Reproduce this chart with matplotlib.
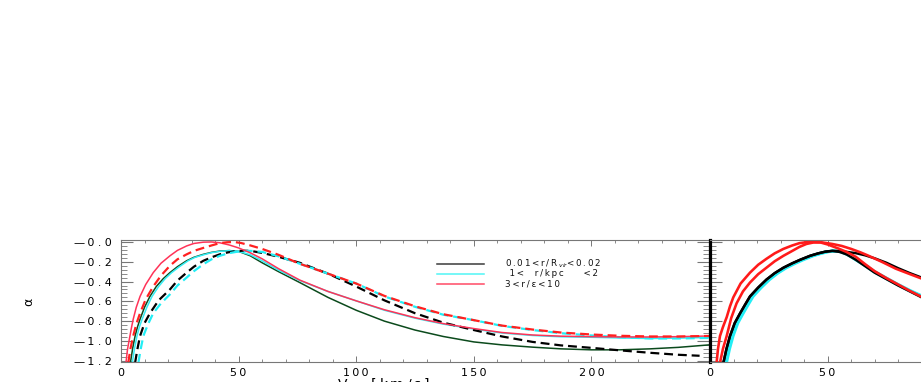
import matplotlib
matplotlib.use("Agg")
import matplotlib.pyplot as plt
from matplotlib.lines import Line2D
from matplotlib.ticker import MultipleLocator, FixedLocator, FixedFormatter

# ---------------- data ----------------
# Left panel: alpha vs Vmax
green_solid_x = [4.0, 5.0, 6.0, 7.0, 8.1, 10, 12.3, 15, 18, 20.8, 24, 27.9, 31, 35, 38.5, 42, 46, 50, 55, 60, 67, 76,
                 88, 100, 112, 125, 137, 150, 162, 175, 187, 200, 212, 225, 237, 250]
green_solid_y = [-1.22, -1.07, -0.95, -0.86, -0.78, -0.66, -0.55, -0.45, -0.37, -0.31, -0.25, -0.19, -0.155, -0.125,
                 -0.105, -0.092, -0.087, -0.095, -0.14, -0.21, -0.30, -0.41, -0.56, -0.69, -0.80, -0.89, -0.955,
                 -1.01, -1.04, -1.063, -1.08, -1.09, -1.09, -1.08, -1.065, -1.04]

cyan_solid_x = [4.8, 5.8, 6.8, 7.8, 9.0, 11, 13.2, 16, 18.8, 21.5, 24.8, 28.5, 31.5, 35, 38.5, 42, 46, 50, 55, 60, 67,
                76, 88, 100, 112, 125, 137, 150, 162, 175, 187, 200, 212, 225, 237, 250]
cyan_solid_y = [-1.22, -1.07, -0.95, -0.86, -0.78, -0.66, -0.55, -0.45, -0.37, -0.31, -0.25, -0.19, -0.155, -0.13,
                -0.108, -0.095, -0.088, -0.095, -0.13, -0.19, -0.285, -0.39, -0.50, -0.595, -0.69, -0.77, -0.83,
                -0.88, -0.92, -0.945, -0.958, -0.963, -0.97, -0.975, -0.972, -0.965]

red_solid_x = [2.1, 2.8, 3.8, 4.5, 5.2, 6.5, 8.1, 10.5, 13.7, 17, 20.8, 24, 27.9, 31, 35, 38.5, 42, 46, 50, 55, 60, 67,
               76, 88, 100, 112, 125, 137, 150, 162, 175, 187, 200, 212, 225, 237, 250]
red_solid_y = [-1.22, -1.08, -0.95, -0.86, -0.78, -0.66, -0.55, -0.43, -0.31, -0.215, -0.14, -0.085, -0.04, -0.015,
               -0.002, 0.0, -0.008, -0.03, -0.06, -0.11, -0.17, -0.27, -0.385, -0.50, -0.595, -0.685, -0.765, -0.825,
               -0.875, -0.915, -0.94, -0.952, -0.957, -0.96, -0.96, -0.957, -0.95]

red_dash_x = [3.1, 4.0, 5.2, 6.5, 8.1, 10.5, 13.7, 17, 20.8, 24, 27.9, 31, 35, 38.5, 42, 45, 48, 51, 55, 60, 67, 76, 88,
              100, 112, 125, 137, 150, 162, 175, 187, 200, 212, 225, 237, 250]
red_dash_y = [-1.22, -1.08, -0.95, -0.83, -0.72, -0.58, -0.45, -0.34, -0.24, -0.175, -0.125, -0.09, -0.06, -0.035,
              -0.012, -0.003, 0.0, -0.01, -0.035, -0.07, -0.13, -0.22, -0.32, -0.42, -0.545, -0.65, -0.73, -0.79,
              -0.845, -0.885, -0.915, -0.935, -0.948, -0.955, -0.955, -0.95]

black_dash_x = [6.0, 7.0, 8.1, 10, 12.3, 16, 20.8, 24, 27.9, 31, 35, 38.5, 42, 45.5, 49, 52, 55, 60, 67, 76, 88, 100,
                112, 125, 137, 150, 162, 175, 187, 200, 212, 225, 237, 246]
black_dash_y = [-1.22, -1.08, -0.95, -0.82, -0.72, -0.59, -0.48, -0.39, -0.31, -0.25, -0.19, -0.155, -0.125, -0.105,
                -0.092, -0.088, -0.09, -0.11, -0.15, -0.21, -0.32, -0.45, -0.59, -0.72, -0.815, -0.89, -0.955, -1.01,
                -1.045, -1.07, -1.095, -1.12, -1.14, -1.15]

cyan_dash_x = [7.4, 8.4, 9.5, 11.5, 13.7, 17, 20.8, 24, 27.9, 31, 35, 38.5, 42, 45.5, 49, 52, 55, 60, 67, 76, 88, 100,
               112, 125, 137, 150, 162, 175, 187, 200, 212, 225, 237, 250]
cyan_dash_y = [-1.22, -1.08, -0.95, -0.83, -0.72, -0.62, -0.53, -0.44, -0.36, -0.295, -0.225, -0.175, -0.14, -0.115,
               -0.10, -0.092, -0.09, -0.10, -0.145, -0.22, -0.32, -0.42, -0.55, -0.655, -0.735, -0.79, -0.848, -0.89,
               -0.922, -0.945, -0.962, -0.975, -0.975, -0.97]

# Right panel (only its left part is visible)
r_red_a_x = [2.8, 3.4, 4.25, 5.5, 7.1, 8.5, 9.9, 13, 17, 20.5, 24, 27.5, 31.2, 35, 38, 41, 44, 47, 52, 56, 60, 64, 67,
             73, 79, 85, 90, 95, 100]
r_red_a_y = [-1.22, -1.08, -0.95, -0.86, -0.76, -0.65, -0.56, -0.42, -0.31, -0.23, -0.17, -0.115, -0.07, -0.035,
             -0.012, -0.002, 0.0, -0.002, -0.02, -0.04, -0.07, -0.105, -0.135, -0.20, -0.27, -0.325, -0.37, -0.415,
             -0.46]
r_red_b_x = [4.25, 5.5, 7.1, 9, 11.3, 14, 17, 20.5, 24, 27.5, 31.2, 35, 38, 41, 44, 47, 50, 55, 58, 62, 66, 70, 75, 80,
             85, 90, 95, 100]
r_red_b_y = [-1.22, -1.08, -0.95, -0.77, -0.62, -0.50, -0.41, -0.325, -0.26, -0.195, -0.14, -0.09, -0.05, -0.02,
             -0.005, -0.005, -0.025, -0.07, -0.10, -0.15, -0.225, -0.295, -0.365, -0.43, -0.495, -0.555, -0.61, -0.66]
r_black_a_x = [5.7, 7, 8.5, 10.5, 12.8, 15, 17, 20.5, 24, 27.5, 31.2, 35, 38.3, 42.5, 46, 49, 52, 55, 58, 62, 66, 70,
               75, 80, 85, 90, 95, 100]
r_black_a_y = [-1.22, -1.08, -0.95, -0.82, -0.72, -0.63, -0.55, -0.46, -0.38, -0.315, -0.26, -0.215, -0.18, -0.14,
               -0.115, -0.098, -0.09, -0.092, -0.10, -0.113, -0.135, -0.165, -0.21, -0.265, -0.315, -0.36, -0.405,
               -0.45]
r_black_b_x = [5.7, 7, 8.5, 10.5, 12.8, 15, 17, 20.5, 24, 27.5, 31.2, 35, 38.3, 42.5, 46, 49, 52, 55, 58, 62, 66, 70,
               75, 80, 85, 90, 95, 100]
r_black_b_y = [-1.22, -1.08, -0.95, -0.82, -0.72, -0.63, -0.55, -0.46, -0.38, -0.315, -0.26, -0.215, -0.18, -0.14,
               -0.115, -0.098, -0.09, -0.10, -0.125, -0.18, -0.245, -0.31, -0.375, -0.44, -0.50, -0.56, -0.61, -0.66]
r_cyan_a_x = [7.0, 8.3, 9.8, 11.8, 14.1, 16.3, 18.3, 21.8, 25.3, 28.8, 32.5, 36.3, 39.6, 43.8, 47.3, 50.3, 53, 56, 59,
              62, 66, 70, 75, 80, 85, 90, 95, 100]
r_cyan_a_y = [-1.22, -1.08, -0.95, -0.82, -0.72, -0.63, -0.55, -0.46, -0.38, -0.315, -0.26, -0.215, -0.18, -0.14,
              -0.115, -0.098, -0.092, -0.10, -0.135, -0.18, -0.24, -0.305, -0.37, -0.435, -0.495, -0.55, -0.60, -0.65]
r_cyan_b_x = [6.4, 7.7, 9.2, 11.2, 13.5, 15.7, 17.7, 21.2, 24.7, 28.2, 31.9, 35.7, 39.0, 43.2, 46.7, 49.7, 52.5, 55.5,
              59, 62, 66, 70, 75, 80, 85, 90, 95, 100]
r_cyan_b_y = [-1.22, -1.08, -0.95, -0.82, -0.72, -0.63, -0.55, -0.46, -0.38, -0.315, -0.26, -0.215, -0.18, -0.14,
              -0.115, -0.098, -0.09, -0.097, -0.13, -0.175, -0.235, -0.30, -0.365, -0.43, -0.49, -0.545, -0.595,
              -0.645]

# ticks / labels
y_ticks = [0.0, -0.2, -0.4, -0.6, -0.8, -1.0, -1.2]
y_tick_texts = ["0.0", "0.2", "0.4", "0.6", "0.8", "1.0", "1.2"]
x_ticks_left = ["0", "50", "100", "150", "200", ""]
x_ticks_right = ["0", "50", "", "", "", ""]
legend_labels = ["0.01<r/R$_{vir}$<0.02", " 1<  r/kpc    <2", "3<r/\u03b5<10"]
legend_colors = ["#3a3a3a", "#4ff5f5", "#ff4a66"]
x_label = "V$_{max}$[km/s]"
y_label = "\u03b1"

W, H = 921, 382
fig = plt.figure(figsize=(W / 100, H / 100), dpi=100)


def fx(px):
    return px / W


def fy(py):
    return 1 - py / H


def spaced(s, sep="\u2009"):
    # widen text like the original vector font, keeping mathtext parts intact
    out, inmath = [], False
    for ch in s:
        if ch == "$":
            inmath = not inmath
            out.append(ch)
            continue
        out.append(ch)
        if not inmath:
            out.append(sep)
    return "".join(out).rstrip(sep)


ax_bot_px, ax_top_px = 362, 240
axL = fig.add_axes([fx(121), fy(ax_bot_px), (709 - 121) / W, (ax_bot_px - ax_top_px) / H])
axR = fig.add_axes([fx(710), fy(ax_bot_px), (709 - 121) / W, (ax_bot_px - ax_top_px) / H])

spine_col = "#777777"
for ax in (axL, axR):
    ax.set_xlim(0, 250)
    ax.set_ylim(-1.213, 0.02)
    ax.patch.set_alpha(0)
    for s in ax.spines.values():
        s.set_color(spine_col)
        s.set_linewidth(0.8)
    ax.xaxis.set_major_locator(FixedLocator([0, 50, 100, 150, 200, 250]))
    ax.xaxis.set_minor_locator(MultipleLocator(10))
    ax.yaxis.set_major_locator(FixedLocator(y_ticks))
    ax.yaxis.set_minor_locator(MultipleLocator(0.04))
    ax.tick_params(axis="both", which="both", direction="in", top=True, right=True, colors=spine_col)
    ax.tick_params(axis="x", which="major", length=4.5, width=0.7, labelcolor="black", labelsize=8, pad=4.5)
    ax.tick_params(axis="x", which="minor", length=2.2, width=0.6)
    ax.tick_params(axis="y", which="major", length=8.5, width=0.8, labelcolor="black", labelsize=8, pad=6.5)
    ax.tick_params(axis="y", which="minor", length=4.3, width=0.6)

axL.xaxis.set_major_formatter(FixedFormatter([spaced(v) for v in x_ticks_left]))
axR.xaxis.set_major_formatter(FixedFormatter([spaced(v) for v in x_ticks_right]))
axL.yaxis.set_major_formatter(FixedFormatter(["\u2014\u2009" + spaced(v, "\u2009\u200a") for v in y_tick_texts]))
axR.tick_params(axis="y", labelleft=False)
axR.spines["left"].set_color("black")
axR.spines["left"].set_linewidth(2.3)

# left panel curves
lw_s = 1.1
lw_d = 1.6
dash = (0, (4, 2.2))
axL.plot(green_solid_x, green_solid_y, color="#0b4a1c", lw=lw_s)
axL.plot(cyan_solid_x, cyan_solid_y, color="#35eef5", lw=lw_s)
axL.plot(black_dash_x, black_dash_y, color="black", lw=lw_d, ls=dash)
axL.plot(cyan_dash_x, cyan_dash_y, color="#22eef5", lw=lw_d, ls=dash)
axL.plot(red_solid_x, red_solid_y, color="#ff3358", lw=lw_s)
axL.plot(red_dash_x, red_dash_y, color="#ff2020", lw=lw_d, ls=dash)

# right panel curves
lw_r = 2.2
axR.plot(r_cyan_a_x, r_cyan_a_y, color="#22eef5", lw=lw_r)
axR.plot(r_cyan_b_x, r_cyan_b_y, color="#22eef5", lw=lw_r)
axR.plot(r_black_b_x, r_black_b_y, color="black", lw=lw_r * 0.8)
axR.plot(r_black_a_x, r_black_a_y, color="black", lw=lw_r * 0.8)
axR.plot(r_red_b_x, r_red_b_y, color="#ff1a1a", lw=lw_r * 0.85)
axR.plot(r_red_a_x, r_red_a_y, color="#ff1a1a", lw=lw_r * 0.85)

# legend (manual, like the original)
for i, (lab, col) in enumerate(zip(legend_labels, legend_colors)):
    yy = 264 + 10 * i
    fig.add_artist(Line2D([fx(437), fx(484)], [fy(yy), fy(yy)], color=col, lw=1.1,
                          transform=fig.transFigure))
    fig.text(fx(505), fy(yy), spaced(lab), fontsize=6.3, va="center", ha="left", color="#111111")

# axis labels
fig.text(fx(29), fy(302), y_label, fontsize=9, rotation=90, va="center", ha="center")
fig.text(fx(337), fy(376.5), spaced(x_label), fontsize=10, va="top", ha="left")

fig.savefig("out.png", dpi=100)
